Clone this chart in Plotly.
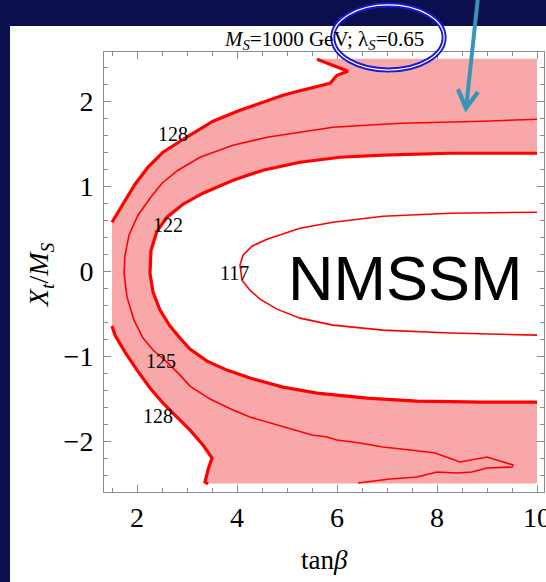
import plotly.graph_objects as go

# ---------------- data ----------------
X_MIN, X_MAX = 1.5, 10.0
Y_MIN, Y_MAX = -2.5, 2.5

# 128 GeV contour, upper branch (thick)
c128u_x = [1.50, 1.70, 1.96, 2.22, 2.52, 3.02, 3.52, 4.06, 4.52, 4.92, 5.22, 5.46, 5.86, 6.00, 6.22, 5.60]
c128u_y = [0.576, 0.776, 1.024, 1.224, 1.40, 1.588, 1.765, 1.894, 1.988, 2.07, 2.118, 2.153, 2.212, 2.306, 2.353, 2.494]

# 128 GeV contour, lower branch (thick)
c128l_x = [1.50, 1.56, 1.76, 2.00, 2.26, 2.52, 2.82, 3.06, 3.32, 3.50, 3.42, 3.36, 3.42]
c128l_y = [-0.647, -0.753, -0.953, -1.165, -1.376, -1.553, -1.729, -1.871, -2.047, -2.20, -2.341, -2.482, -2.506]

# 122 GeV contour (thick)
c122_x = [10.0, 8.26, 6.92, 6.06, 5.26, 4.52, 3.92, 3.32, 2.92, 2.60, 2.40, 2.28, 2.26, 2.32, 2.46, 2.66,
          2.86, 3.06, 3.40, 3.80, 4.26, 4.92, 5.60, 6.60, 7.60, 8.92, 10.0]
c122_y = [1.388, 1.388, 1.365, 1.341, 1.282, 1.188, 1.071, 0.918, 0.788, 0.635, 0.471, 0.247, -0.024, -0.247,
          -0.459, -0.647, -0.788, -0.918, -1.059, -1.165, -1.259, -1.365, -1.435, -1.494, -1.529, -1.541, -1.541]

# 125 GeV contour (thin)
c125_x = [10.0, 8.92, 7.26, 5.92, 5.26, 4.60, 3.92, 3.26, 2.82, 2.50, 2.26, 2.02, 1.84, 1.76, 1.74, 1.80,
          1.94, 2.12, 2.32, 2.60, 2.86, 3.06, 3.46, 3.92, 4.26, 4.66, 5.06, 5.50, 5.80, 6.00, 6.46, 6.92,
          7.46, 7.96, 8.46, 9.00, 9.52, 9.50, 9.00, 8.70, 8.40, 8.00, 7.60, 7.06, 6.42]
c125_y = [1.788, 1.765, 1.741, 1.694, 1.635, 1.576, 1.482, 1.341, 1.188, 1.035, 0.859, 0.659, 0.424, 0.188,
          -0.024, -0.306, -0.576, -0.788, -0.929, -1.071, -1.224, -1.353, -1.506, -1.635, -1.718, -1.788,
          -1.859, -1.929, -1.953, -1.988, -2.024, -2.071, -2.106, -2.141, -2.247, -2.188, -2.282, -2.306,
          -2.318, -2.365, -2.376, -2.365, -2.424, -2.447, -2.494]

# 117 GeV contour (thin)
c117_x = [10.0, 8.26, 6.92, 5.92, 5.26, 4.92, 4.60, 4.30, 4.12, 4.06, 4.10, 4.26, 4.46, 4.80, 5.26, 5.92,
          6.92, 8.26, 10.0]
c117_y = [0.694, 0.682, 0.647, 0.576, 0.506, 0.435, 0.376, 0.294, 0.188, 0.071, -0.106, -0.224, -0.329,
          -0.447, -0.553, -0.635, -0.694, -0.729, -0.753]

# contour labels
lab_text = ["128", "122", "117", "125", "128"]
lab_x = [2.72, 2.62, 3.94, 2.48, 2.42]
lab_y = [1.612, 0.541, -0.024, -1.059, -1.706]

x_ticks = [2, 4, 6, 8, 10]
y_ticks = [-2, -1, 0, 1, 2]

# ---------------- figure ----------------
RED = "#ff0000"
PINK = "rgb(249,168,170)"
NAVY = "#0c0f4d"
TEAL = "#3796b8"
SERIF = "Liberation Serif, Times New Roman, serif"

# shaded band (between 122 and 128 contours, clipped to the scan region)
fill_x = ([X_MAX, c128u_x[-1]] + c128u_x[::-1] + c128l_x + [c128l_x[-1], X_MAX] + c122_x[::-1])
fill_y = ([Y_MAX, Y_MAX] + c128u_y[::-1] + c128l_y + [Y_MIN, Y_MIN] + c122_y[::-1])

fig = go.Figure()
fig.add_trace(go.Scatter(x=fill_x, y=fill_y, mode="lines", fill="toself", fillcolor=PINK,
                         line=dict(width=0), hoverinfo="skip", showlegend=False))
for xs, ys, w in [(c128u_x, c128u_y, 3.2), (c128l_x, c128l_y, 3.2), (c122_x, c122_y, 3.2),
                  (c125_x, c125_y, 1.6), (c117_x, c117_y, 1.6)]:
    fig.add_trace(go.Scatter(x=xs, y=ys, mode="lines", line=dict(color=RED, width=w),
                             hoverinfo="skip", showlegend=False))

for t, x, y in zip(lab_text, lab_x, lab_y):
    fig.add_annotation(x=x, y=y, text=t, showarrow=False, font=dict(family=SERIF, size=20, color="black"))

fig.add_annotation(x=7.36, y=-0.08, text="NMSSM", showarrow=False,
                   font=dict(family="Liberation Sans, Arial, sans-serif", size=63, color="black"))

# titles
fig.add_annotation(xref="paper", yref="paper", x=0.5, y=1.027, yanchor="middle",
                   text="<i>M<sub>S</sub></i>=1000 GeV; λ<sub><i>S</i></sub>=0.65", showarrow=False,
                   font=dict(family=SERIF, size=21, color="black"))
fig.add_annotation(xref="paper", yref="paper", x=0.5, y=-0.154, yanchor="middle",
                   text="tan<i>β</i>", showarrow=False, font=dict(family=SERIF, size=27, color="black"))
fig.add_annotation(xref="paper", yref="paper", x=-0.1455, y=0.495, xanchor="center", yanchor="middle",
                   textangle=-90, text="<i>X<sub>t</sub></i>/<i>M<sub>S</sub></i>", showarrow=False,
                   font=dict(family=SERIF, size=28, color="black"))

# slide decorations: blue double ellipse and teal arrow
fig.add_shape(type="circle", xref="paper", yref="paper", x0=0.520, x1=0.773, y0=0.959, y1=1.107,
              line=dict(color="#1a1ad6", width=5), layer="above")
fig.add_shape(type="circle", xref="paper", yref="paper", x0=0.520, x1=0.773, y0=0.959, y1=1.107,
              line=dict(color="white", width=1.2), layer="above")
fig.add_shape(type="line", xref="paper", yref="paper", x0=0.850, y0=1.125, x1=0.8235, y1=0.878,
              line=dict(color=TEAL, width=4), layer="above")
fig.add_shape(type="path", xref="paper", yref="paper",
              path="M 0.8045,0.9159 L 0.8227,0.8727 L 0.8500,0.9091",
              line=dict(color=TEAL, width=4.5), layer="above")

# white slide panel
fig.add_shape(type="rect", xref="paper", yref="paper", x0=-0.2136, x1=1.1, y0=-0.3, y1=1.059,
              fillcolor="white", line=dict(width=0), layer="below")

axis_common = dict(showline=True, linecolor="#8c8c8c", linewidth=1, mirror="ticks", ticks="inside",
                   tickcolor="#8c8c8c", ticklen=7, tickwidth=1, showgrid=False, zeroline=False,
                   ticklabeloverflow="allow", automargin=False,
                   tickfont=dict(family=SERIF, size=28, color="black"))
fig.update_xaxes(range=[1.34, 10.14], tickvals=x_ticks, ticklabelstandoff=0,
                 minor=dict(ticks="inside", dtick=0.5, tick0=0, ticklen=4, tickcolor="#8c8c8c", showgrid=False),
                 **axis_common)
fig.update_yaxes(range=[-2.6, 2.58], tickvals=y_ticks, ticklabelstandoff=4,
                 minor=dict(ticks="inside", dtick=0.2, tick0=0, ticklen=4, tickcolor="#8c8c8c", showgrid=False),
                 **axis_common)

fig.update_layout(width=546, height=582, margin=dict(l=104, r=2, t=52, b=90, autoexpand=False),
                  paper_bgcolor=NAVY, plot_bgcolor="white", showlegend=False)

fig.write_html("out.html", config={"displayModeBar": False},
               post_script="document.body.style.margin='0';document.body.style.background='%s';" % NAVY)
